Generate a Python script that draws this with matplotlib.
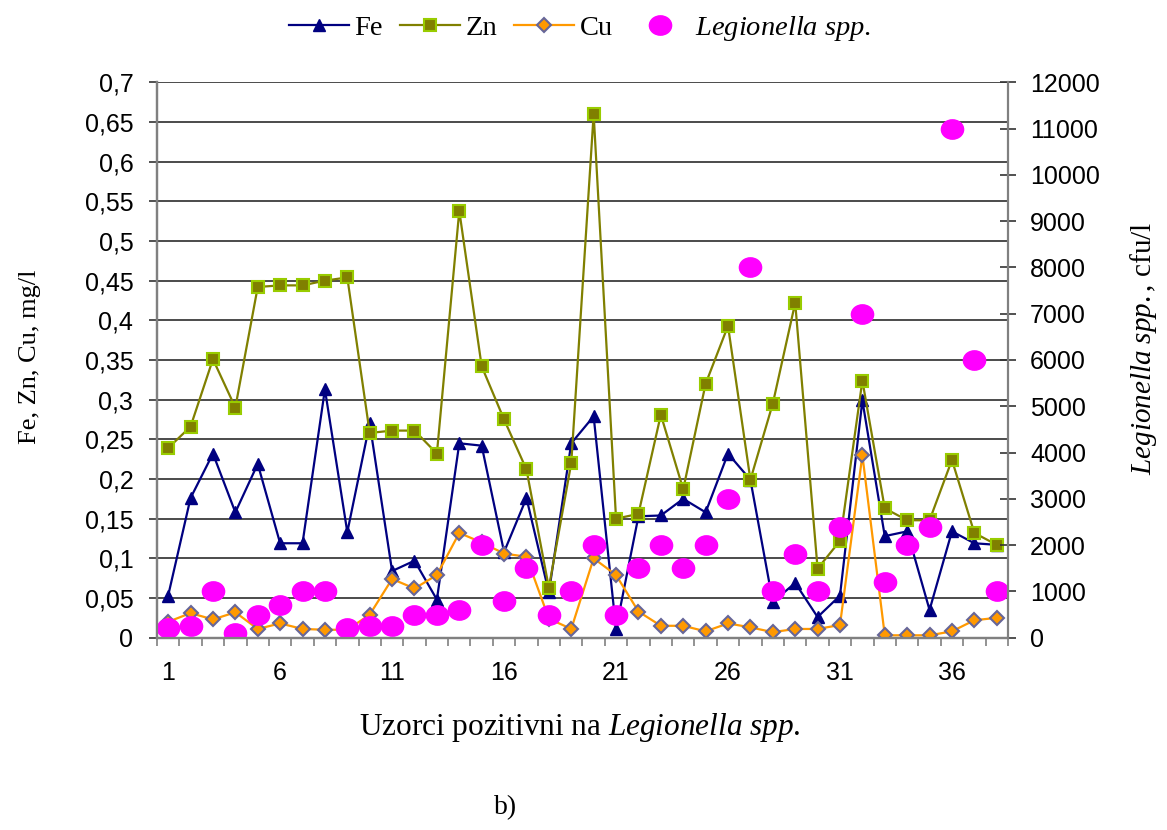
import matplotlib
matplotlib.use("Agg")
import matplotlib.pyplot as plt
import numpy as np
from matplotlib.path import Path
from matplotlib.transforms import Affine2D

plt.rcParams["font.family"] = "Liberation Serif"
plt.rcParams["mathtext.fontset"] = "custom"
plt.rcParams["mathtext.rm"] = "Liberation Serif"
plt.rcParams["mathtext.it"] = "Liberation Serif:italic"

# koncentracije metala (mg/l) i broj Legionella spp. (cfu/l) po uzorku
uzorci = np.arange(1, 39)
fe = [0.053, 0.176, 0.232, 0.158, 0.219, 0.119, 0.119, 0.313, 0.133, 0.270,
      0.084, 0.097, 0.048, 0.245, 0.242, 0.108, 0.176, 0.057, 0.245, 0.279,
      0.011, 0.153, 0.154, 0.175, 0.158, 0.232, 0.199, 0.045, 0.069, 0.026,
      0.053, 0.299, 0.128, 0.134, 0.035, 0.134, 0.119, 0.117]
zn = [0.239, 0.266, 0.351, 0.290, 0.442, 0.444, 0.444, 0.450, 0.454, 0.258,
      0.261, 0.261, 0.232, 0.538, 0.342, 0.275, 0.212, 0.063, 0.220, 0.660,
      0.150, 0.156, 0.281, 0.187, 0.320, 0.393, 0.199, 0.295, 0.422, 0.087,
      0.122, 0.324, 0.163, 0.148, 0.148, 0.224, 0.132, 0.117]
cu = [0.020, 0.031, 0.023, 0.032, 0.011, 0.018, 0.011, 0.010, 0.010, 0.029,
      0.074, 0.062, 0.079, 0.132, 0.120, 0.106, 0.102, 0.024, 0.011, 0.100,
      0.079, 0.033, 0.015, 0.015, 0.008, 0.018, 0.013, 0.007, 0.011, 0.011,
      0.016, 0.230, 0.003, 0.003, 0.003, 0.008, 0.022, 0.025]
legionella = [200, 250, 1000, 100, 500, 700, 1000, 1000, 200, 250,
              250, 500, 500, 600, 2000, 800, 1500, 500, 1000, 2000,
              500, 1500, 2000, 1500, 2000, 3000, 8000, 1000, 1800, 1000,
              2400, 7000, 1200, 2000, 2400, 11000, 6000, 1000]

lijeve_oznake = np.arange(0, 0.7001, 0.05)
desne_oznake = np.arange(0, 12001, 1000)
oznake_x = [1, 6, 11, 16, 21, 26, 31, 36]

SIVA = "#808080"
VEL_OZNAKA = 18

fig = plt.figure(figsize=(11.67, 8.30), dpi=100)
ax = fig.add_axes([0.1345, 0.2317, 0.7292, 0.6692])
ax2 = ax.twinx()

# metali na lijevoj osi
l_fe, = ax.plot(uzorci, fe, color="#000080", lw=1.6, marker="^", ms=9,
                mfc="#000080", mec="#000080", label="Fe", zorder=3)
l_zn, = ax.plot(uzorci, zn, color="#808000", lw=1.6, marker="s", ms=8,
                mfc="#808000", mec="#99cc00", mew=1.5, label="Zn", zorder=4)
l_cu, = ax.plot(uzorci, cu, color="#ff9900", lw=1.6, marker="D", ms=7.5,
                mfc="#ff9900", mec="#666699", mew=1.5, label="Cu", zorder=5)

# Legionella na desnoj osi, spljošteni krugovi
elipsa = Affine2D().scale(1.15, 1.0).transform_path(Path.unit_circle())
l_leg, = ax2.plot(uzorci, legionella, ls="none", marker=elipsa, ms=16,
                  mfc="#ff00ff", mec="#ff00ff",
                  label=r"$\mathit{Legionella\ spp.}$")

ax.set_xlim(0.5, 38.5)
ax.set_ylim(0, 0.7)
ax2.set_ylim(0, 12000)

ax.set_yticks(lijeve_oznake)
ax.set_yticklabels([f"{v:.2f}".rstrip("0").rstrip(".").replace(".", ",")
                    for v in lijeve_oznake])
ax.grid(axis="y", color="#1a1a1a", lw=1.1, zorder=0)
ax.set_axisbelow(True)

# crtice na granicama kategorija, brojevi ispod svakog petog uzorka
ax.set_xticks(np.arange(0.5, 39, 1.0))
ax.set_xticklabels([])
ax.set_xticks(oznake_x, minor=True)
ax.set_xticklabels([str(v) for v in oznake_x], minor=True)
ax.tick_params(axis="x", which="major", direction="out", length=6,
               width=1.2, color=SIVA)
ax.tick_params(axis="x", which="minor", length=0, pad=17,
               labelsize=VEL_OZNAKA, labelfontfamily="Liberation Sans")
ax.tick_params(axis="y", direction="out", length=6, width=1.2, color="#333333",
               pad=11, labelsize=VEL_OZNAKA, labelfontfamily="Liberation Sans")

ax2.set_yticks(desne_oznake)
ax2.set_yticklabels([str(v) for v in desne_oznake])
ax2.tick_params(axis="y", direction="inout", length=12, width=1.2,
                color="#333333", pad=10, labelsize=VEL_OZNAKA,
                labelfontfamily="Liberation Sans")

for a in (ax, ax2):
    a.spines["top"].set_visible(False)
    for s in ("left", "right", "bottom"):
        a.spines[s].set_color(SIVA)
        a.spines[s].set_linewidth(1.6)
ax.spines["right"].set_visible(False)

fig.text(0.026, 0.570, "Fe, Zn, Cu, mg/l", rotation=90, fontsize=19,
         ha="center", va="center")
fig.text(0.980, 0.580, r"$\mathit{Legionella\ spp.}$, cfu/l", rotation=90,
         fontsize=21, ha="center", va="center")
fig.text(0.497, 0.123, r"Uzorci pozitivni na $\mathit{Legionella\ spp.}$",
         fontsize=22.5, ha="center", va="center")
fig.text(0.433, 0.0265, "b)", fontsize=20, ha="center", va="center")

fig.legend(handles=[l_fe, l_zn, l_cu, l_leg], loc="center",
           bbox_to_anchor=(0.497, 0.966), ncol=4, frameon=False,
           fontsize=20.5, handlelength=2.1, handletextpad=0.2,
           columnspacing=0.6, numpoints=1)

fig.savefig("out.png", dpi=100)
